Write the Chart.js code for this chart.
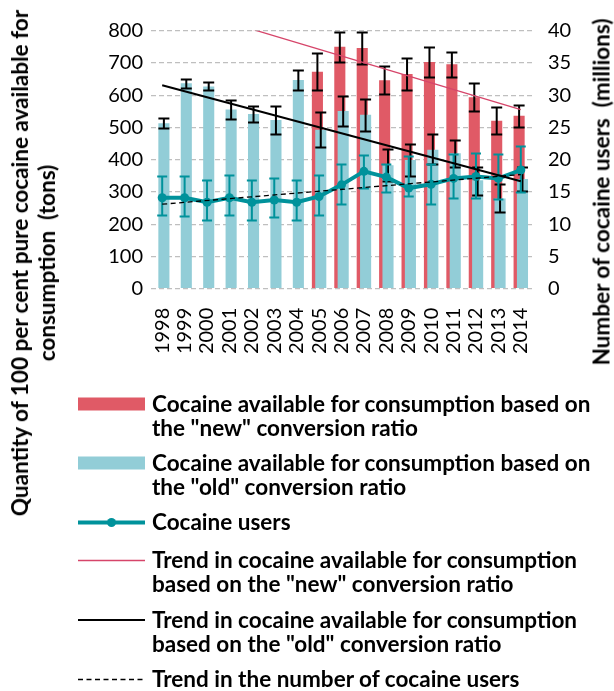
<!DOCTYPE html>
<html>
<head>
<meta charset="utf-8">
<title>Cocaine availability and users, 1998-2014</title>
<script src="https://cdn.jsdelivr.net/npm/chart.js@4.4.1/dist/chart.umd.min.js"></script>
<style>
  html, body { margin: 0; padding: 0; background: #fff; }
  body { width: 614px; height: 691px; position: relative; overflow: hidden;
         font-family: Lato, "Open Sans", sans-serif; color: #000; }
  #chartBox { position: absolute; left: 0; top: 0; width: 614px; height: 380px; }
  .axisTitle { position: absolute; font-weight: bold; font-size: 22.5px; line-height: 27px;
               text-align: center; white-space: pre; transform: translate(-50%, -50%) rotate(-90deg); }
  .entry { position: absolute; left: 0; width: 614px; height: 50px; }
  .entry svg { position: absolute; left: 0; top: 0; }
  .entry .txt { position: absolute; left: 152px; top: 0; font-weight: bold; font-size: 22.5px;
                line-height: 24px; white-space: pre; }
</style>
</head>
<body>
<div id="chartBox"><canvas id="chart" width="614" height="380"></canvas></div>

<div class="axisTitle" style="left:33px; top:263px;">Quantity of 100 per cent pure cocaine available for
consumption  (tons)</div>
<div class="axisTitle" style="left:601px; top:192px;">Number of cocaine users  (millions)</div>

<div class="entry" style="top:392px;">
  <svg width="150" height="24"><rect x="78" y="5.5" width="67" height="13" fill="#E05A66"/></svg>
  <div class="txt">Cocaine available for consumption based on
the "new" conversion ratio</div>
</div>
<div class="entry" style="top:451px;">
  <svg width="150" height="24"><rect x="78" y="5.5" width="67" height="13" fill="#92CDD7"/></svg>
  <div class="txt">Cocaine available for consumption based on
the "old" conversion ratio</div>
</div>
<div class="entry" style="top:510px;">
  <svg width="150" height="24"><line x1="78" y1="12.5" x2="145" y2="12.5" stroke="#00929B" stroke-width="4"/>
    <circle cx="111.5" cy="12.5" r="4.5" fill="#00929B"/></svg>
  <div class="txt">Cocaine users</div>
</div>
<div class="entry" style="top:548px;">
  <svg width="150" height="24"><line x1="78" y1="12.5" x2="145" y2="12.5" stroke="#D6456A" stroke-width="1.3"/></svg>
  <div class="txt">Trend in cocaine available for consumption
based on the "new" conversion ratio</div>
</div>
<div class="entry" style="top:608px;">
  <svg width="150" height="24"><line x1="78" y1="12" x2="145" y2="12" stroke="#000" stroke-width="2"/></svg>
  <div class="txt">Trend in cocaine available for consumption
based on the "old" conversion ratio</div>
</div>
<div class="entry" style="top:667px;">
  <svg width="150" height="24"><line x1="78" y1="12.5" x2="145" y2="12.5" stroke="#000" stroke-width="1.3" stroke-dasharray="5 3.5"/></svg>
  <div class="txt">Trend in the number of cocaine users</div>
</div>

<script>
// Years on the category axis
const years = ['1998','1999','2000','2001','2002','2003','2004','2005','2006',
               '2007','2008','2009','2010','2011','2012','2013','2014'];

// Cocaine available for consumption, "old" conversion ratio (tons), with ranges
const oldAvail = [513, 637, 627, 556, 542, 523, 647, 493, 551, 539, 383, 399, 431, 420, 336, 280, 340];
const oldLow   = [498, 623, 616, 527, 518, 480, 616, 438, 504, 490, 333, 350, 386, 378, 290, 239, 304];
const oldHigh  = [528, 650, 642, 585, 565, 567, 678, 549, 598, 587, 433, 448, 479, 461, 378, 324, 376];

// Cocaine available for consumption, "new" conversion ratio (tons), with ranges
const newAvail = [null, null, null, null, null, null, null, 673, 750, 746, 646, 666, 703, 696, 594, 521, 536];
const newLow   = [null, null, null, null, null, null, null, 616, 704, 697, 603, 615, 657, 657, 551, 480, 502];
const newHigh  = [null, null, null, null, null, null, null, 730, 797, 795, 690, 716, 748, 734, 637, 562, 570];

// Cocaine users (millions), with ranges
const users     = [14.1, 14.1, 13.4, 14.1, 13.4, 13.75, 13.4, 14.3, 16.1, 18.2, 17.3, 15.6, 16.2, 17.1, 17.4, 17.1, 18.4];
const usersLow  = [11.4, 11.2, 10.7, 11.4, 10.7, 11.1, 10.7, 11.5, 13.1, 15.6, 15.0, 14.3, 13.2, 14.0, 14.0, 13.9, 15.0];
const usersHigh = [17.5, 17.5, 16.8, 17.6, 16.8, 17.2, 16.8, 17.6, 19.3, 20.7, 19.3, 20.5, 19.4, 20.9, 21.0, 20.9, 22.1];

// Linear trend lines, given by their end values in 1998 and 2014
const trendNew   = [888, null, null, null, null, null, null, null, null, null, null, null, null, null, null, null, 555];
const trendOld   = [631, null, null, null, null, null, null, null, null, null, null, null, null, null, null, null, 333];
const trendUsers = [13.1, null, null, null, null, null, null, null, null, null, null, null, null, null, null, null, 17.7];

// Left / right tick values
const tonsTicks  = [0, 100, 200, 300, 400, 500, 600, 700, 800];
const usersTicks = [0, 5, 10, 15, 20, 25, 30, 35, 40];

const RED = '#E05A66', LIGHT = '#92CDD7', TEAL = '#00929B';
const TICK_FONT = { family: 'Lato', size: 20 };

function drawRanges(chart, index, low, high, color, half, width) {
  const meta = chart.getDatasetMeta(index);
  const yScale = chart.scales[meta.yAxisID];
  const ctx = chart.ctx;
  ctx.save();
  ctx.strokeStyle = color;
  ctx.lineWidth = width;
  meta.data.forEach((el, i) => {
    if (low[i] == null || high[i] == null) return;
    const x = el.x;
    const y1 = Math.round(yScale.getPixelForValue(low[i])) + 0.5;
    const y2 = Math.round(yScale.getPixelForValue(high[i])) + 0.5;
    ctx.beginPath();
    ctx.moveTo(x, y1); ctx.lineTo(x, y2);
    ctx.moveTo(x - half, y1); ctx.lineTo(x + half, y1);
    ctx.moveTo(x - half, y2); ctx.lineTo(x + half, y2);
    ctx.stroke();
  });
  ctx.restore();
}

// Draws the "old" bars over the "new" ones, and the range whiskers
const rangePlugin = {
  id: 'ranges',
  beforeDatasetDraw(chart, args) {
    const ds = chart.data.datasets[args.index];
    if (ds.key === 'old') return false;
    if (ds.key === 'users') drawRanges(chart, args.index, usersLow, usersHigh, TEAL, 5, 2);
  },
  afterDatasetDraw(chart, args) {
    const ds = chart.data.datasets[args.index];
    if (ds.key === 'new') {
      const oldIndex = chart.data.datasets.findIndex(d => d.key === 'old');
      chart.getDatasetMeta(oldIndex).controller.draw();
      drawRanges(chart, args.index, newLow, newHigh, '#000', 5.5, 2);
      drawRanges(chart, oldIndex, oldLow, oldHigh, '#000', 5.5, 2);
    }
  }
};

new Chart(document.getElementById('chart'), {
  data: {
    labels: years,
    datasets: [
      { key: 'trendNew', type: 'line', data: trendNew, yAxisID: 'y', borderColor: '#D6456A', borderWidth: 1.3,
        pointRadius: 0, spanGaps: true, tension: 0, order: 0 },
      { key: 'trendOld', type: 'line', data: trendOld, yAxisID: 'y', borderColor: '#000', borderWidth: 2,
        pointRadius: 0, spanGaps: true, tension: 0, order: 0 },
      { key: 'trendUsers', type: 'line', data: trendUsers, yAxisID: 'y2', borderColor: '#000', borderWidth: 1.3,
        borderDash: [5, 3.5], pointRadius: 0, spanGaps: true, tension: 0, order: 0 },
      { key: 'users', type: 'line', data: users, yAxisID: 'y2', borderColor: TEAL, borderWidth: 4,
        pointRadius: 4.5, pointBackgroundColor: TEAL, pointBorderColor: TEAL, pointBorderWidth: 0,
        tension: 0, order: 1 },
      { key: 'new', type: 'bar', data: newAvail, yAxisID: 'y', backgroundColor: RED,
        categoryPercentage: 0.3, barPercentage: 3.3, order: 5 },
      { key: 'old', type: 'bar', data: oldAvail, yAxisID: 'y', backgroundColor: LIGHT,
        categoryPercentage: 0.3, barPercentage: 3.3, order: 6 }
    ]
  },
  options: {
    responsive: false,
    animation: false,
    events: [],
    layout: { padding: { top: 30.7, left: 0, right: 0, bottom: 0 } },
    plugins: { legend: { display: false }, tooltip: { enabled: false } },
    scales: {
      x: {
        type: 'category',
        offset: true,
        grid: { display: false, drawTicks: false },
        border: { display: false },
        ticks: { font: TICK_FONT, color: '#000', minRotation: 90, maxRotation: 90, autoSkip: false, padding: 19 },
        afterFit(s) { s.height = 380 - 288.7; }
      },
      y: {
        position: 'left',
        min: 0, max: 800,
        afterBuildTicks(s) { s.ticks = tonsTicks.map(v => ({ value: v })); },
        grid: { color: '#BFBFBF', lineWidth: 1.3, drawTicks: false },
        border: { display: false, dash: [5, 3] },
        ticks: { font: TICK_FONT, color: '#000', padding: 8 },
        afterFit(s) { s.width = 151; }
      },
      y2: {
        position: 'right',
        min: 0, max: 40,
        afterBuildTicks(s) { s.ticks = usersTicks.map(v => ({ value: v })); },
        grid: { display: false, drawTicks: false },
        border: { display: false },
        ticks: { font: TICK_FONT, color: '#000', padding: 16 },
        afterFit(s) { s.width = 82; }
      }
    }
  },
  plugins: [rangePlugin]
});
</script>
</body>
</html>
